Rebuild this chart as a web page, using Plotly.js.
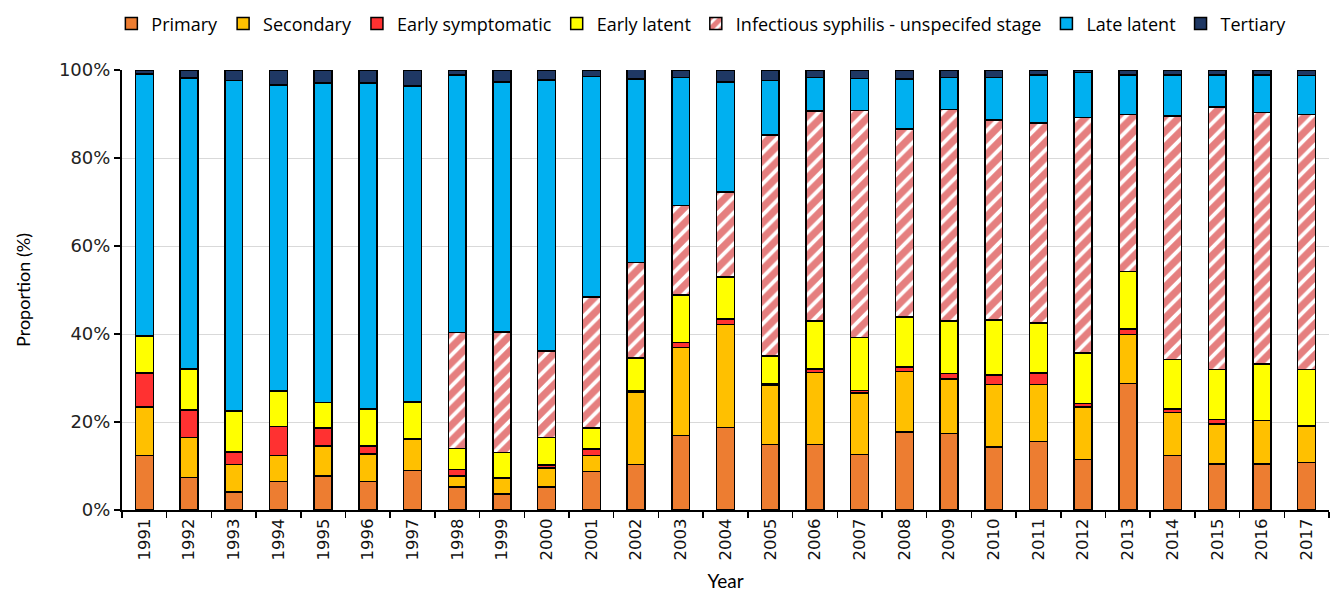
<!DOCTYPE html>
<html>
<head>
<meta charset="utf-8">
<script src="https://cdn.plot.ly/plotly-3.0.1.min.js"></script>
<style>
  html, body { margin: 0; padding: 0; background: #fff; }
  #chart { width: 1332px; height: 592px; }
</style>
</head>
<body>
<div id="chart"></div>
<script>
const years = ['1991', '1992', '1993', '1994', '1995', '1996', '1997', '1998', '1999',
    '2000', '2001', '2002', '2003', '2004', '2005', '2006', '2007', '2008', '2009',
    '2010', '2011', '2012', '2013', '2014', '2015', '2016', '2017'];

// proportions (%)
const primary = [12.4, 7.4, 4.1, 6.5, 7.7, 6.5, 9.0, 5.2, 3.6, 5.2, 8.8, 10.3, 16.9, 18.8,
    14.9, 14.9, 12.6, 17.7, 17.4, 14.3, 15.6, 11.5, 28.7, 12.4, 10.5, 10.5, 10.8];
const secondary = [11.0, 9.1, 6.2, 5.9, 6.8, 6.2, 7.0, 2.5, 3.7, 4.4, 3.6, 16.5, 20.0, 23.4,
    13.4, 16.4, 14.0, 13.8, 12.4, 14.2, 12.9, 11.9, 11.2, 9.8, 9.1, 9.8, 8.2];
const earlySymptomatic = [7.7, 6.2, 2.9, 6.6, 4.1, 1.9, 0.3, 1.5, 0.1, 0.6, 1.5, 0.2, 1.2, 1.2,
    0.3, 0.7, 0.6, 1.0, 1.2, 2.2, 2.6, 0.8, 1.2, 0.8, 1.0, 0.0, 0.2];
const earlyLatent = [8.4, 9.4, 9.3, 8.0, 5.8, 8.3, 8.3, 4.8, 5.7, 6.3, 4.7, 7.6, 10.8, 9.6,
    6.4, 10.9, 12.0, 11.4, 11.9, 12.5, 11.4, 11.5, 13.1, 11.2, 11.3, 12.9, 12.7];
const unspecified = [0, 0, 0, 0, 0, 0, 0, 26.3, 27.3, 19.6, 29.8, 21.7, 20.3, 19.3,
    50.2, 47.8, 51.6, 42.7, 48.1, 45.4, 45.4, 53.5, 35.7, 55.4, 59.7, 57.1, 58.0];
const lateLatent = [59.6, 66.1, 75.1, 69.6, 72.7, 74.2, 71.8, 58.6, 56.9, 61.6, 50.1, 41.7, 29.1, 25.0,
    12.4, 7.6, 7.3, 11.3, 7.3, 9.7, 11.0, 10.2, 9.0, 9.3, 7.3, 8.6, 8.8];
const tertiary = [0.9, 1.8, 2.4, 3.4, 2.9, 2.9, 3.6, 1.1, 2.7, 2.3, 1.5, 2.1, 1.7, 2.7,
    2.4, 1.7, 1.9, 2.1, 1.7, 1.7, 1.1, 0.6, 1.1, 1.1, 1.1, 1.1, 1.3];

const seriesNames = ['Primary', 'Secondary', 'Early symptomatic', 'Early latent',
    'Infectious syphilis - unspecifed stage', 'Late latent', 'Tertiary'];
const seriesValues = [primary, secondary, earlySymptomatic, earlyLatent, unspecified, lateLatent, tertiary];
const seriesColors = ['#ED7D31', '#FFC000', '#FF3131', '#FFFF00', '#FFFFFF', '#00B0F0', '#1F3864'];

const traces = seriesNames.map((name, i) => {
    const trace = {
        x: years,
        y: seriesValues[i],
        type: 'bar',
        name: name,
        marker: {
            color: seriesColors[i],
            line: { color: '#000000', width: 1.5 }
        },
        hoverinfo: 'x+y+name'
    };
    if (i === 4) {
        trace.marker.pattern = {
            shape: '/',
            fgcolor: '#CC0000',
            bgcolor: '#FFFFFF',
            size: 11,
            solidity: 0.65,
            fillmode: 'overlay'
        };
    }
    return trace;
});

const layout = {
    width: 1332,
    height: 592,
    barmode: 'stack',
    bargap: 0.6,
    margin: { l: 122, r: 3, t: 70, b: 82 },
    paper_bgcolor: '#ffffff',
    plot_bgcolor: '#ffffff',
    font: { family: 'Lato, "Noto Sans", sans-serif', size: 17, color: '#000000' },
    showlegend: true,
    legend: {
        orientation: 'h',
        x: 0.48,
        xanchor: 'center',
        y: 1.105,
        yanchor: 'middle',
        font: { family: '"Open Sans", Lato, sans-serif', size: 18 },
        traceorder: 'normal',
        itemwidth: 30,
        tracegroupgap: 0
    },
    xaxis: {
        type: 'category',
        tickangle: -90,
        tickfont: { family: '"DejaVu Sans", sans-serif', size: 16.5, color: '#111111' },
        showline: true,
        linecolor: '#000000',
        linewidth: 2,
        ticks: 'outside',
        tickson: 'boundaries',
        ticklen: 6,
        tickwidth: 1.5,
        tickcolor: '#000000',
        showgrid: false,
        automargin: false,
        title: { text: 'Year', font: { size: 19 }, standoff: 16 }
    },
    yaxis: {
        range: [0, 100],
        tickvals: [0, 20, 40, 60, 80, 100],
        ticktext: ['0%', '20%', '40%', '60%', '80%', '100%'],
        tickfont: { family: '"DejaVu Sans", sans-serif', size: 18, color: '#222222' },
        showline: true,
        linecolor: '#000000',
        linewidth: 2,
        ticks: 'outside',
        ticklen: 6,
        tickwidth: 1.5,
        tickcolor: '#000000',
        showgrid: true,
        gridcolor: '#d9d9d9',
        gridwidth: 1,
        zeroline: false,
        automargin: false,
        title: { text: 'Proportion (%)', font: { size: 18 }, standoff: 24 }
    }
};

Plotly.newPlot('chart', traces, layout, { displayModeBar: false, staticPlot: true });
</script>
</body>
</html>
